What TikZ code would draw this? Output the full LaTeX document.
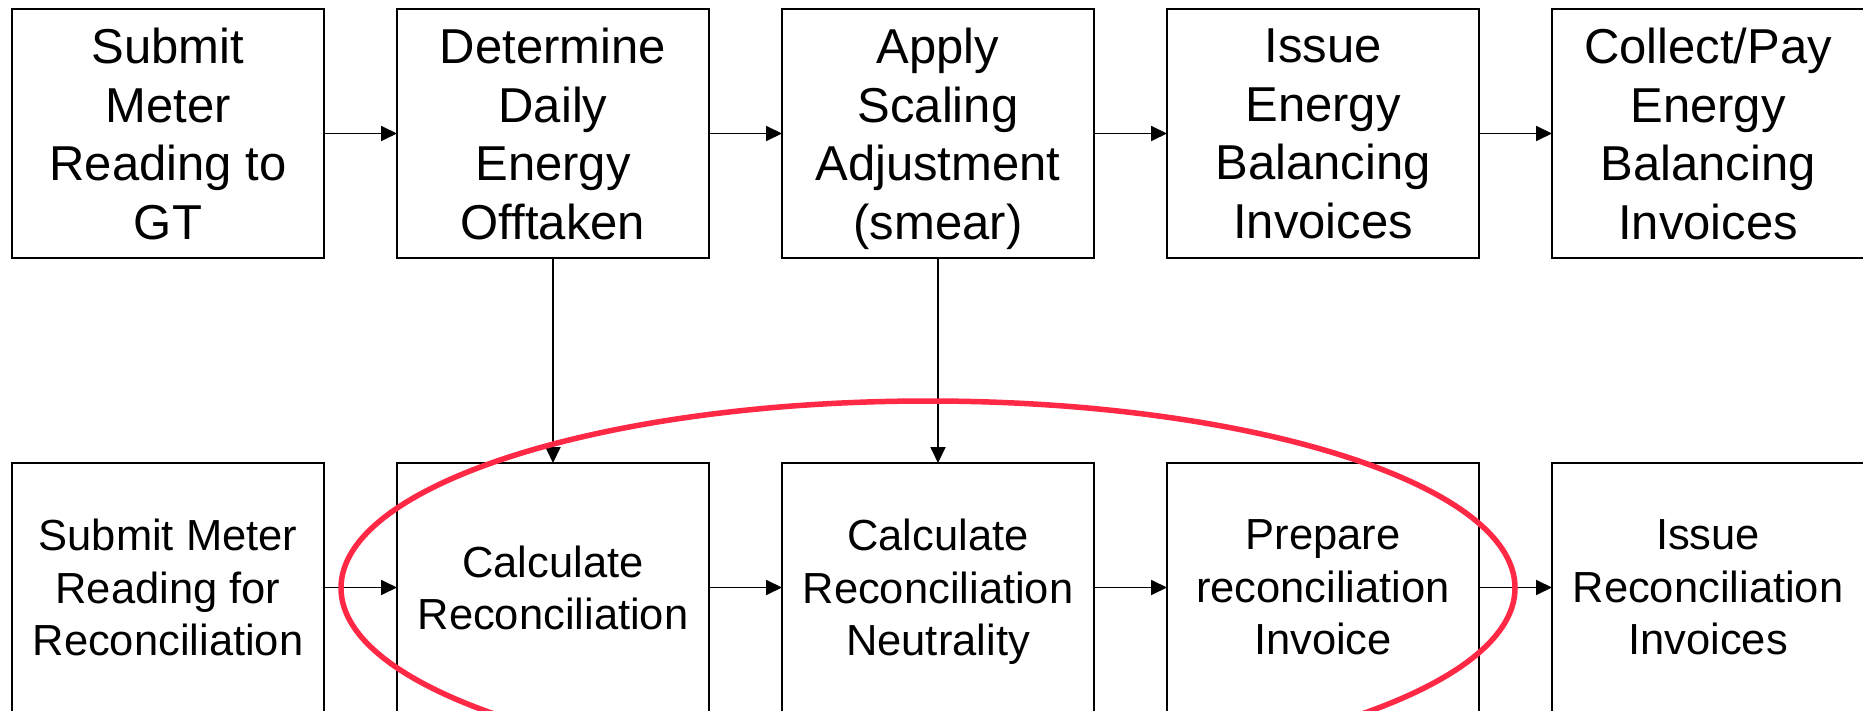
\documentclass[tikz,border=0pt]{standalone}
\usepackage{fontspec}
\setmainfont{Liberation Sans}
\usetikzlibrary{arrows.meta}
\definecolor{hl}{RGB}{255,41,69}
\begin{document}
\begin{tikzpicture}[x=1pt,y=-1pt,
  box/.style={draw,line width=2pt,minimum width=312pt,minimum height=249pt,inner sep=0pt,outer sep=0pt,align=center,text depth=0pt},
  toptext/.style={font=\fontsize{49}{58.5}\selectfont},
  bottext/.style={font=\fontsize{43.5}{52.5}\selectfont},
  conn/.style={line width=1.8pt,-{Triangle[length=16pt,width=15pt]}},
  ring/.style={draw=hl,line width=5.5pt}]
\useasboundingbox (0,0) rectangle (1863,711);
\fill[white] (0,0) rectangle (1863,711);
% top row
\node[box,toptext] (t1) at (168,133.5) {Submit\\Meter\\Reading to\\GT};
\node[box,toptext] (t2) at (553,133.5) {Determine\\Daily\\Energy\\Offtaken};
\node[box,toptext] (t3) at (938,133.5) {Apply\\Scaling\\Adjustment\\(smear)};
\node[box,toptext] (t4) at (1323,133.5) {Issue\\Energy\\Balancing\\Invoices};
\node[box,toptext] (t5) at (1708,133.5) {Collect/Pay\\Energy\\Balancing\\Invoices};
% bottom row
\node[box,bottext] (b1) at (168,587.5) {Submit Meter\\Reading for\\Reconciliation};
\node[box,bottext] (b2) at (553,587.5) {Calculate\\Reconciliation};
\node[box,bottext] (b3) at (938,587.5) {Calculate\\Reconciliation\\Neutrality};
\node[box,bottext] (b4) at (1323,587.5) {Prepare\\reconciliation\\Invoice};
\node[box,bottext] (b5) at (1708,587.5) {Issue\\Reconciliation\\Invoices};
% connectors
\draw[conn] (t1.east) -- (t2.west);
\draw[conn] (t2.east) -- (t3.west);
\draw[conn] (t3.east) -- (t4.west);
\draw[conn] (t4.east) -- (t5.west);
\draw[conn] (b1.east) -- (b2.west);
\draw[conn] (b2.east) -- (b3.west);
\draw[conn] (b3.east) -- (b4.west);
\draw[conn] (b4.east) -- (b5.west);
\draw[conn] (t2.south) -- (b2.north);
\draw[conn] (t3.south) -- (b3.north);
% highlight ring
\draw[ring] (928,588) ellipse [x radius=587pt, y radius=187pt];
\end{tikzpicture}
\end{document}
